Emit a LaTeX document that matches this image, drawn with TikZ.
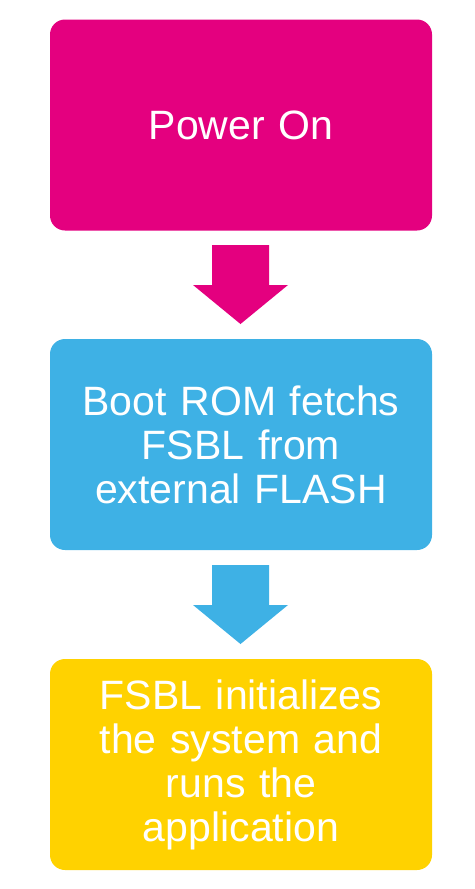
\documentclass[tikz,border=0pt]{standalone}
\usepackage{fontspec}
\setmainfont{Liberation Sans}
\definecolor{cmag}{RGB}{228,0,127}
\definecolor{cblue}{RGB}{62,177,229}
\definecolor{cyel}{RGB}{255,210,0}
\begin{document}
\begin{tikzpicture}[x=1pt,y=-1pt,
  stepbox/.style={rounded corners=15pt,minimum width=382pt,minimum height=211pt,inner sep=0pt,
    text=white,align=center,font=\fontsize{41}{44}\selectfont,text width=370pt}]
\useasboundingbox (0,0) rectangle (474,889);
\node[stepbox,fill=cmag] (p) at (241,125) {Power On};
\node[stepbox,fill=cblue] (b) at (241,444.5) {Boot ROM fetchs\\FSBL from\\external FLASH};
\node[stepbox,fill=cyel] (f) at (241,764.5) {FSBL initializes\\the system and\\runs the\\application};
\fill[cmag] (212,245) -- (269,245) -- (269,285) -- (288,285) -- (240.5,324) -- (193,285) -- (212,285) -- cycle;
\fill[cblue] (212,565) -- (269,565) -- (269,605) -- (288,605) -- (240.5,644) -- (193,605) -- (212,605) -- cycle;
\end{tikzpicture}
\end{document}
